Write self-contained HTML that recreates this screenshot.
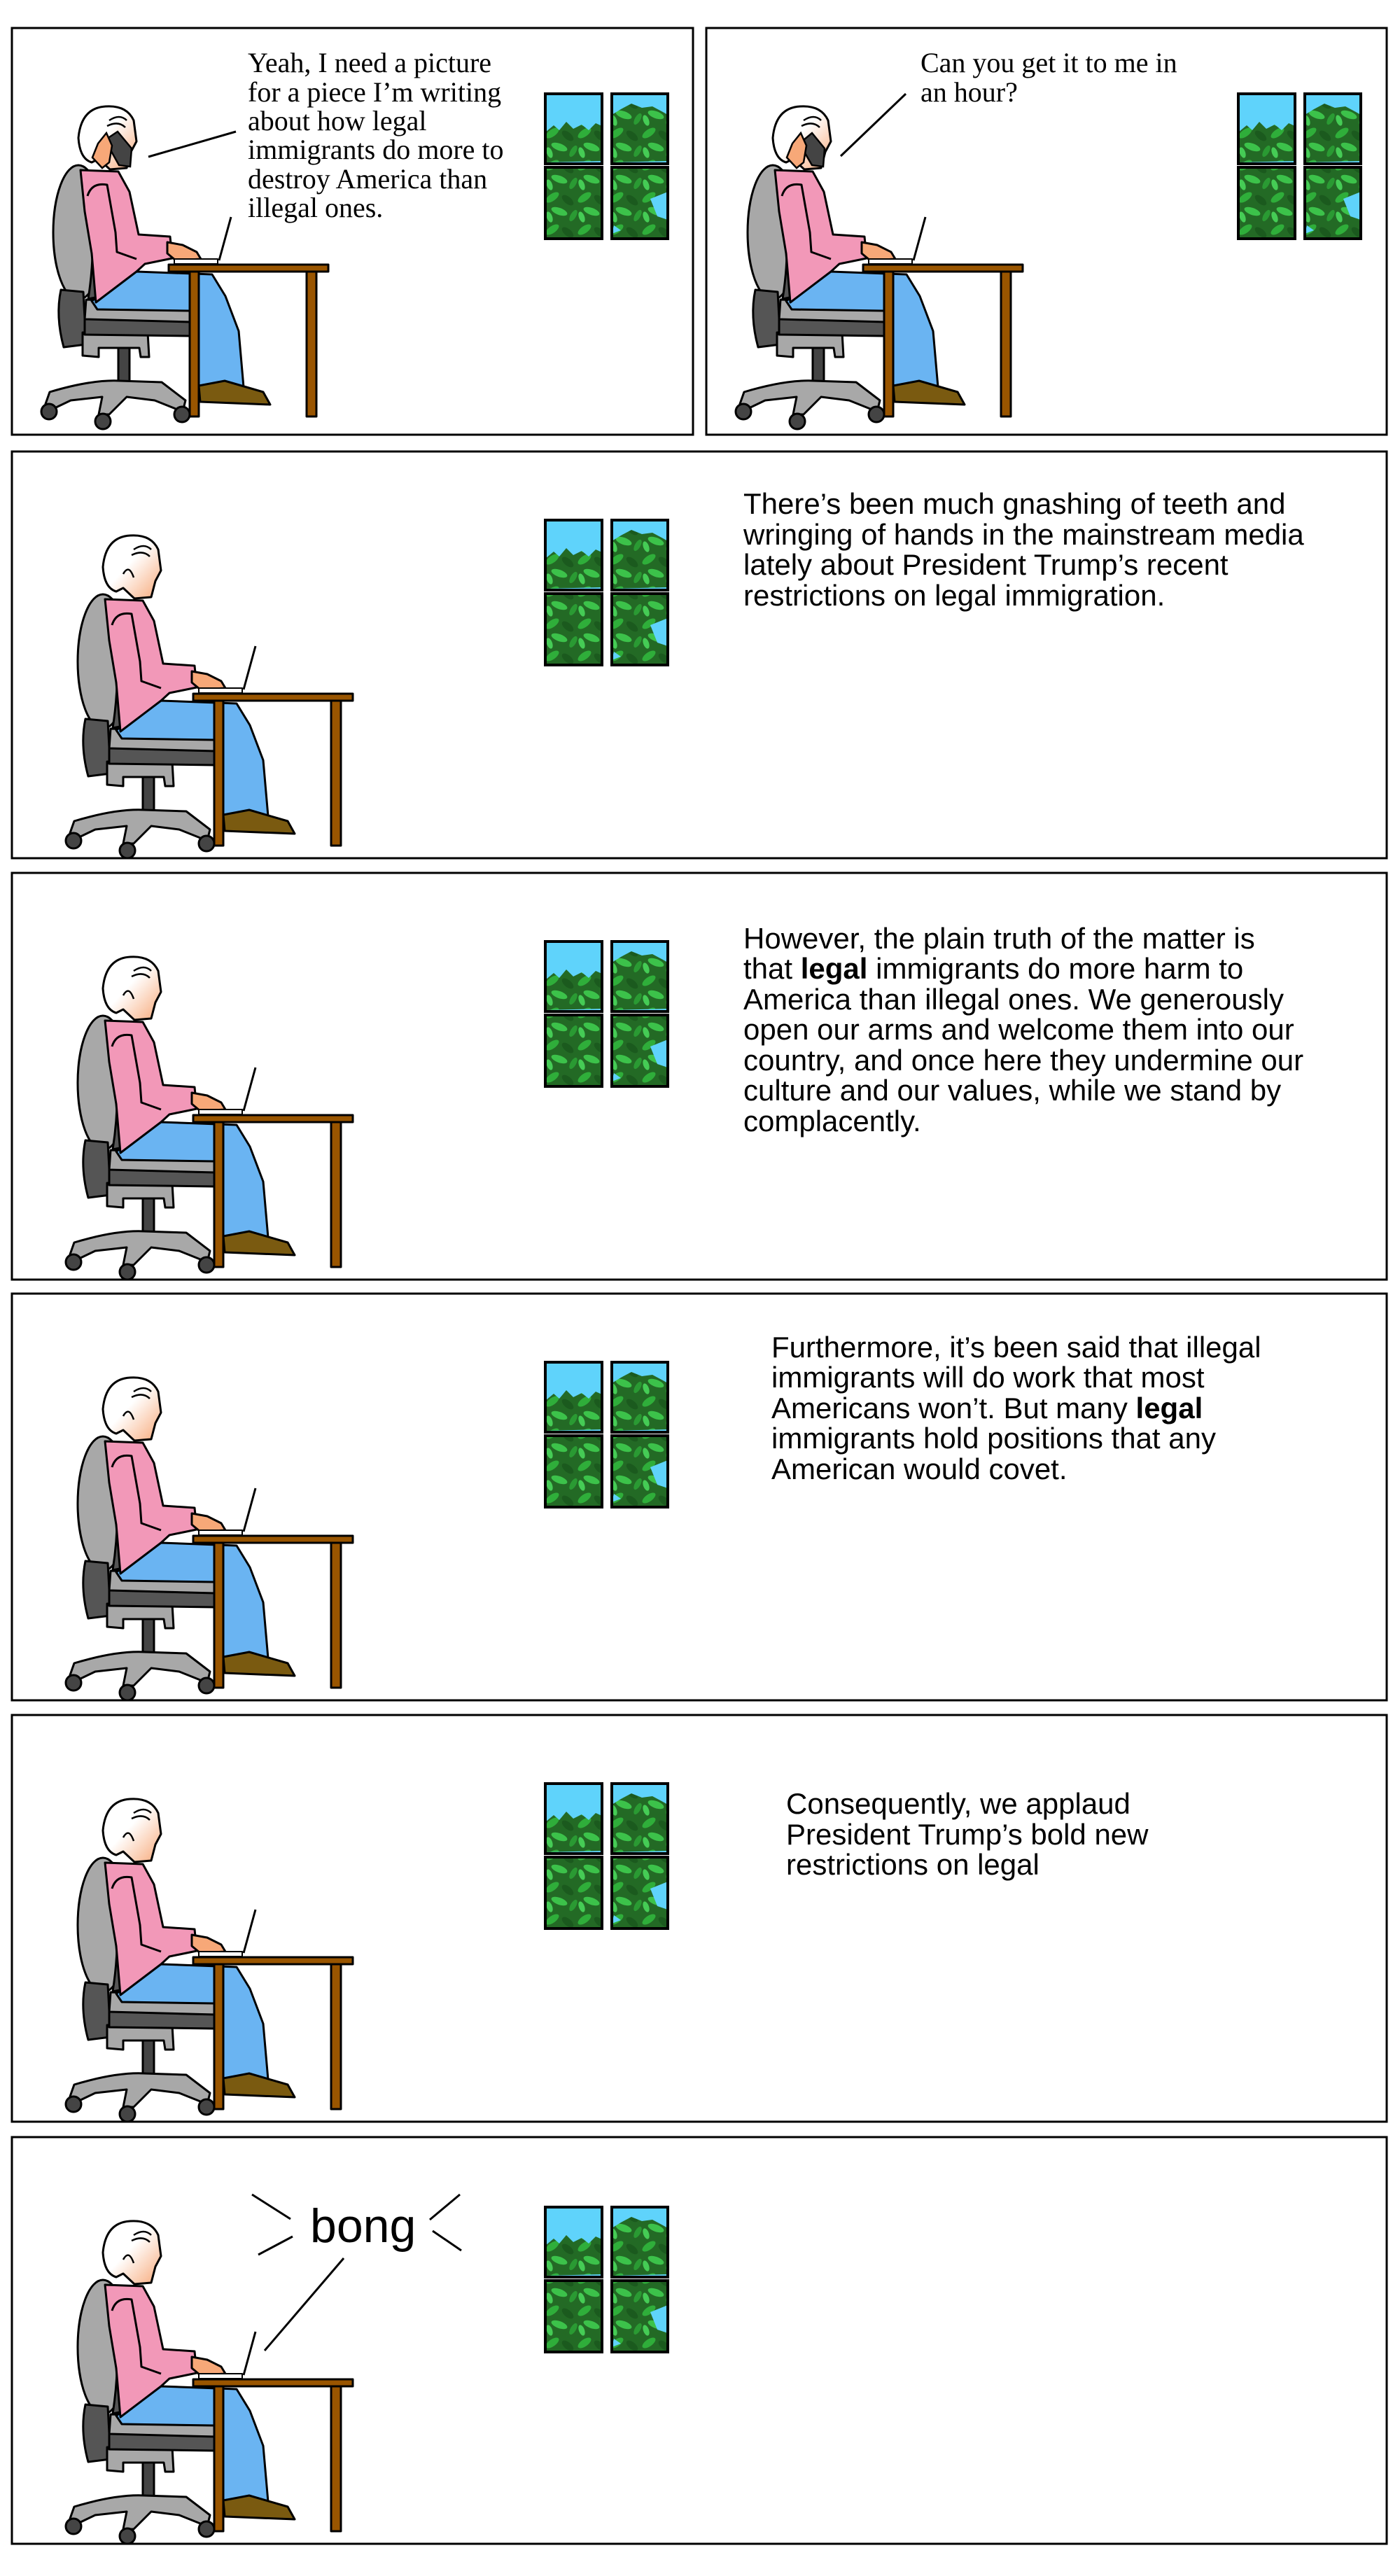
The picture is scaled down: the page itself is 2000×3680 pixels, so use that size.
<!DOCTYPE html>
<html><head><meta charset="utf-8"><style>
html,body{margin:0;padding:0;background:#fff;}
svg{display:block;}
.t{font-family:"Liberation Sans",Arial,sans-serif;font-size:42px;fill:#000;}
.s{font-family:"Liberation Serif",serif;font-size:40px;fill:#000;}
</style></head><body>
<svg width="2000" height="3680" viewBox="0 0 2000 3680" xmlns="http://www.w3.org/2000/svg">
<defs>
<pattern id="lv" width="46" height="46" patternUnits="userSpaceOnUse">
<rect width="46" height="46" fill="#236a25"/>
<ellipse cx="10" cy="10" rx="11" ry="5" fill="#2fae3a" transform="rotate(-35 10 10)"/>
<ellipse cx="32" cy="14" rx="10" ry="5" fill="#1b5a1e" transform="rotate(40 32 14)"/>
<ellipse cx="20" cy="30" rx="12" ry="5" fill="#3cc24a" transform="rotate(20 20 30)"/>
<ellipse cx="40" cy="36" rx="9" ry="4" fill="#2a9a33" transform="rotate(-60 40 36)"/>
<ellipse cx="6" cy="38" rx="8" ry="4" fill="#45cc55" transform="rotate(70 6 38)"/>
</pattern>
<linearGradient id="fg" x1="0" y1="0" x2="1" y2="1"><stop offset="0.45" stop-color="#fff"/><stop offset="1" stop-color="#f7a878"/></linearGradient>
<g id="win">
<rect x="0" y="0" width="81" height="100" fill="#5fd3fb"/>
<path d="M0 55 L12 45 L20 52 L30 40 L40 50 L52 44 L62 52 L72 42 L81 46 L81 96 L0 98Z" fill="url(#lv)"/>
<rect x="95" y="0" width="80" height="100" fill="#5fd3fb"/>
<path d="M95 30 L108 22 L123 14 L138 20 L153 18 L168 26 L175 30 L175 96 L95 98Z" fill="url(#lv)"/>
<rect x="0" y="105" width="81" height="102" fill="url(#lv)"/>
<rect x="95" y="105" width="80" height="102" fill="url(#lv)"/>
<path d="M150 150 L175 140 L175 180 L160 175Z M95 200 L108 195 L98 188Z" fill="#5fd3fb"/>
<g fill="none" stroke="#000" stroke-width="4">
<rect x="0" y="0" width="81" height="100"/><rect x="95" y="0" width="80" height="100"/>
<rect x="0" y="105" width="81" height="102"/><rect x="95" y="105" width="80" height="102"/>
</g>
</g>
<g id="fig" stroke="#000" stroke-width="3" stroke-linejoin="round">
<ellipse cx="131" cy="300" rx="36" ry="96" fill="#a8a8a8"/>
<path d="M150 215 Q172 300 160 392 L145 395 Q160 300 140 215Z" fill="#555"/>
<path d="M106 382 L138 385 L142 460 L110 464 Q98 420 106 382Z" fill="#555"/>
<rect x="188" y="462" width="16" height="52" fill="#444"/>
<path d="M84 545 L90 528 Q150 510 190 512 L250 514 L284 540 L280 556 L240 540 L200 535 L175 560 L160 560 L165 535 L120 540 L95 552Z" fill="#a8a8a8"/>
<circle cx="89" cy="556" r="11" fill="#444"/><circle cx="166" cy="570" r="11" fill="#444"/><circle cx="279" cy="560" r="11" fill="#444"/>
<path d="M137 443 L230 443 L232 478 L220 478 L218 465 L160 465 L160 478 L137 476Z" fill="#a8a8a8"/>
<path d="M140 422 L290 424 L292 448 L140 446Z" fill="#555"/>
<path d="M142 396 L290 400 L292 428 L140 424Z" fill="#a8a8a8"/>
<path d="M214 356 L322 360 L341 391 L360 441 L367 521 L303 523 L300 432 L290 412 L158 410 L150 398Z" fill="#6ab4f2"/>
<path d="M303 519 L340 512 L395 528 L405 546 L305 542Z" fill="#7a5a10"/>
<path d="M134 211 L188 213 L204 242 L217 303 L262 306 L265 337 L226 345 L214 356 L156 400 L150 330 L140 270Z" fill="#f298b8"/>
<path d="M144 248 Q150 228 172 232 L184 300 L186 328 L214 338" fill="none"/>
<path d="M258 314 L280 318 L300 328 L306 338 L270 340 L258 330Z" fill="#f7a878"/>
<rect x="268" y="338" width="62" height="7" fill="#fff" stroke-width="2"/>
<path d="M332 340 L349 278" stroke-width="3"/>
<path d="M160 195 L176 210 L200 208 L206 185 L214 170 L210 140 Q200 118 170 120 Q135 122 131 165 Q133 195 150 200Z" fill="url(#fg)"/>
<path d="M175 140 Q190 130 200 140 M172 148 Q188 140 198 150 M160 175 Q168 160 175 180" fill="none" stroke-width="2.5"/>
<rect x="260" y="346" width="228" height="10" fill="#995500"/>
<rect x="290" y="356" width="13" height="207" fill="#995500"/>
<rect x="457" y="356" width="14" height="207" fill="#995500"/>
</g>
</defs>

<g fill="#fff" stroke="#000" stroke-width="3">
<rect x="17" y="40" width="973" height="581"/>
<rect x="1009" y="40" width="972" height="581"/>
<rect x="17" y="645" width="1964" height="581"/>
<rect x="17" y="1247" width="1964" height="581"/>
<rect x="17" y="1848" width="1964" height="581"/>
<rect x="17" y="2450" width="1964" height="581"/>
<rect x="17" y="3053" width="1964" height="581"/>
</g>

<use href="#win" x="779" y="134"/>
<use href="#win" x="1769" y="134"/>
<use href="#win" x="779" y="743"/>
<use href="#win" x="779" y="1345"/>
<use href="#win" x="779" y="1946"/>
<use href="#win" x="779" y="2548"/>
<use href="#win" x="779" y="3153"/>

<use href="#fig" x="-19" y="32"/>
<use href="#fig" x="973" y="32"/>
<use href="#fig" x="16" y="645"/>
<use href="#fig" x="16" y="1247"/>
<use href="#fig" x="16" y="1848"/>
<use href="#fig" x="16" y="2450"/>
<use href="#fig" x="16" y="3053"/>

<g stroke="#000" stroke-width="2.5">
<path d="M150 200 L168 188 L188 212 L186 238 L170 236Z" fill="#444"/>
<path d="M140 205 L152 190 L160 208 L156 232 L146 240 L132 225Z" fill="#f7a878"/>
<path d="M1142 205 L1160 190 L1178 212 L1176 238 L1160 236Z" fill="#444"/>
<path d="M1132 205 L1144 190 L1152 208 L1148 232 L1138 240 L1124 225Z" fill="#f7a878"/>
</g>

<g stroke="#000" stroke-width="3" fill="none">
<line x1="212" y1="224" x2="337" y2="188"/>
<line x1="1201" y1="223" x2="1294" y2="134"/>
<line x1="360" y1="3135" x2="415" y2="3170"/>
<line x1="369" y1="3221" x2="418" y2="3195"/>
<line x1="657" y1="3135" x2="614" y2="3171"/>
<line x1="618" y1="3187" x2="659" y2="3215"/>
<line x1="491" y1="3226" x2="378" y2="3358"/>
</g>

<g class="s">
<text x="354" y="103">Yeah, I need a picture</text>
<text x="354" y="145">for a piece I’m writing</text>
<text x="354" y="186">about how legal</text>
<text x="354" y="227">immigrants do more to</text>
<text x="354" y="269">destroy America than</text>
<text x="354" y="310">illegal ones.</text>
<text x="1315" y="103">Can you get it to me in</text>
<text x="1315" y="145">an hour?</text>
</g>
<g class="t">
<text x="1062" y="734">There’s been much gnashing of teeth and</text>
<text x="1062" y="778">wringing of hands in the mainstream media</text>
<text x="1062" y="821">lately about President Trump’s recent</text>
<text x="1062" y="865">restrictions on legal immigration.</text>

<text x="1062" y="1355">However, the plain truth of the matter is</text>
<text x="1062" y="1398">that <tspan font-weight="bold">legal</tspan> immigrants do more harm to</text>
<text x="1062" y="1442">America than illegal ones. We generously</text>
<text x="1062" y="1485">open our arms and welcome them into our</text>
<text x="1062" y="1529">country, and once here they undermine our</text>
<text x="1062" y="1572">culture and our values, while we stand by</text>
<text x="1062" y="1616">complacently.</text>

<text x="1102" y="1939">Furthermore, it’s been said that illegal</text>
<text x="1102" y="1982">immigrants will do work that most</text>
<text x="1102" y="2026">Americans won’t. But many <tspan font-weight="bold">legal</tspan></text>
<text x="1102" y="2069">immigrants hold positions that any</text>
<text x="1102" y="2113">American would covet.</text>

<text x="1123" y="2591">Consequently, we applaud</text>
<text x="1123" y="2635">President Trump’s bold new</text>
<text x="1123" y="2678">restrictions on legal</text>

<text x="443" y="3203" font-size="68">bong</text>
</g>
</svg>
</body></html>
